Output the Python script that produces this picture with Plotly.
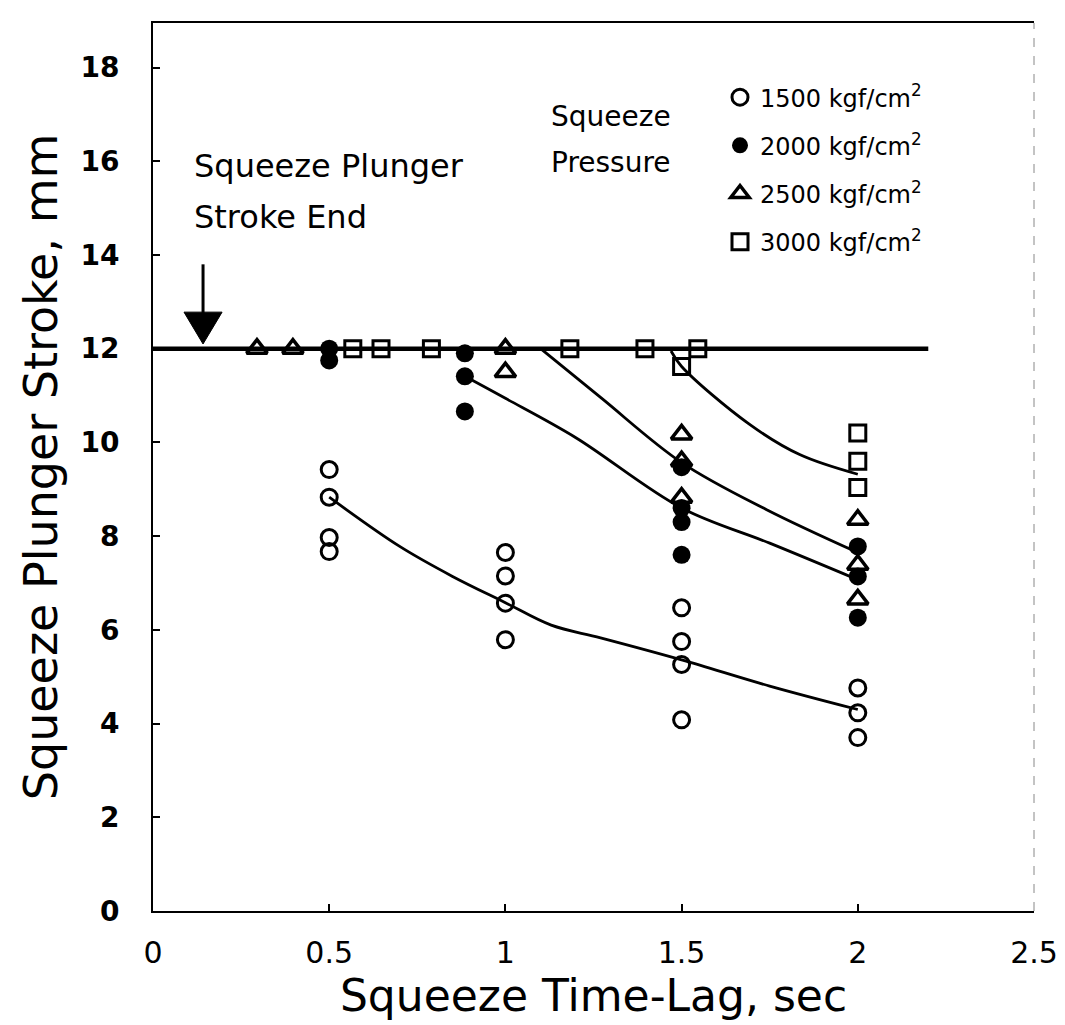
import plotly.graph_objects as go

# ---------------- data ----------------
# 1500 kgf/cm2 (open circles)
P1500_X = [0.5, 0.5, 0.5, 0.5, 1.0, 1.0, 1.0, 1.0, 1.5, 1.5, 1.5, 1.5, 2.0, 2.0, 2.0]
P1500_Y = [9.42, 8.83, 7.97, 7.67, 7.65, 7.15, 6.57, 5.79, 6.47, 5.75, 5.26, 4.08, 4.76, 4.23, 3.70]
# 2000 kgf/cm2 (filled circles)
P2000_X = [0.5, 0.5, 0.885, 0.885, 0.885, 1.5, 1.5, 1.5, 1.5, 2.0, 2.0, 2.0]
P2000_Y = [12.0, 11.75, 11.9, 11.41, 10.66, 9.47, 8.6, 8.3, 7.6, 7.78, 7.14, 6.26]
# 2500 kgf/cm2 (open triangles)
P2500_X = [0.295, 0.397, 1.0, 1.0, 1.5, 1.5, 1.5, 2.0, 2.0, 2.0]
P2500_Y = [12.0, 12.0, 12.0, 11.5, 10.17, 9.6, 8.82, 8.35, 7.39, 6.65]
# 3000 kgf/cm2 (open squares)
P3000_X = [0.567, 0.647, 0.79, 1.183, 1.396, 1.546, 1.5, 2.0, 2.0, 2.0]
P3000_Y = [12.0, 12.0, 12.0, 12.0, 12.0, 12.0, 11.62, 10.2, 9.6, 9.04]

# fitted curves
C1500_X = [0.5, 0.7, 0.85, 1.0, 1.13, 1.27, 1.5, 1.75, 2.0]
C1500_Y = [8.83, 7.78, 7.14, 6.58, 6.1, 5.83, 5.36, 4.8, 4.3]
C2000_X = [0.885, 1.0, 1.2, 1.5, 1.75, 2.0]
C2000_Y = [11.41, 10.94, 10.1, 8.6, 7.85, 7.07]
C2500_X = [1.1, 1.27, 1.5, 1.74, 2.0]
C2500_Y = [12.0, 10.96, 9.57, 8.57, 7.65]
C3000_X = [1.47, 1.5, 1.69, 1.835, 2.0]
C3000_Y = [11.95, 11.62, 10.4, 9.74, 9.32]

# plunger stroke end level
HLINE_X = [0.0, 2.2]
HLINE_Y = [12.0, 12.0]

SERIES_NAMES = ["1500 kgf/cm<sup>2</sup>", "2000 kgf/cm<sup>2</sup>",
                "2500 kgf/cm<sup>2</sup>", "3000 kgf/cm<sup>2</sup>"]

X_TICKS = [0, 0.5, 1, 1.5, 2, 2.5]
X_TICK_TEXT = ["0", "0.5", "1", "1.5", "2", "2.5"]
Y_TICKS = [0, 2, 4, 6, 8, 10, 12, 14, 16, 18]

# arrow annotation ("stroke end")
ARROW_X = 0.142
ARROW_TOP = 13.8
ARROW_TIP = 12.1

FONT = "DejaVu Sans"

fig = go.Figure()

# curves
for cx, cy in [(C1500_X, C1500_Y), (C2000_X, C2000_Y), (C2500_X, C2500_Y), (C3000_X, C3000_Y)]:
    fig.add_trace(go.Scatter(x=cx, y=cy, mode="lines", line=dict(color="black", width=2.8, shape="spline"),
                             showlegend=False, hoverinfo="skip"))

fig.add_trace(go.Scatter(x=HLINE_X, y=HLINE_Y, mode="lines", line=dict(color="black", width=4.5),
                         showlegend=False, hoverinfo="skip"))

marker_specs = [
    (P1500_X, P1500_Y, "circle-open", 16, 3),
    (P2000_X, P2000_Y, "circle", 18, 0),
    (P2500_X, P2500_Y, "triangle-up-open", 18, 3.5),
    (P3000_X, P3000_Y, "square-open", 16, 3),
]
for i, (px, py, sym, sz, lw) in enumerate(marker_specs):
    fig.add_trace(go.Scatter(
        x=px, y=py, mode="markers", name=SERIES_NAMES[i], legendgroup=str(i),
        marker=dict(symbol=sym, size=sz, color="black", line=dict(color="black", width=lw)),
    ))

# arrow: shaft + head
head_h = 0.68
head_w = 0.054
fig.add_shape(type="line", x0=ARROW_X, x1=ARROW_X, y0=ARROW_TOP, y1=ARROW_TIP + head_h * 0.5,
              line=dict(color="black", width=3), layer="above")
fig.add_shape(type="path",
              path=f"M {ARROW_X - head_w} {ARROW_TIP + head_h} L {ARROW_X + head_w} {ARROW_TIP + head_h} L {ARROW_X} {ARROW_TIP} Z",
              fillcolor="black", line=dict(color="black", width=1), layer="above")

# right border (dashed, faint)
fig.add_shape(type="line", xref="paper", yref="paper", x0=1, x1=1, y0=0, y1=1,
              line=dict(color="#888888", width=1, dash="dash"))

# text annotations
def note(text, x, y, size):
    fig.add_annotation(text=text, x=x, y=y, xref="x", yref="y", showarrow=False,
                       xanchor="left", yanchor="middle", font=dict(family=FONT, size=size, color="black"))

note("Squeeze Plunger", 0.11, 15.9, 32)
note("Stroke End", 0.11, 14.8, 32)
note("Squeeze", 1.125, 16.95, 28)
note("Pressure", 1.125, 15.98, 28)

fig.update_layout(
    width=1065, height=1025,
    margin=dict(l=145, r=39, t=15, b=122),
    plot_bgcolor="white", paper_bgcolor="white",
    font=dict(family=FONT, color="black"),
    showlegend=True,
    legend=dict(x=(720 - 153) / 881, y=0.9414, xanchor="left", yanchor="top",
                bgcolor="rgba(0,0,0,0)", font=dict(family=FONT, size=24, color="black"),
                tracegroupgap=14, itemwidth=30),
    xaxis=dict(range=[0, 2.5], tickvals=X_TICKS, ticktext=X_TICK_TEXT, showgrid=False, zeroline=False,
               showline=True, linecolor="black", linewidth=2, mirror=True,
               ticks="inside", ticklen=7, tickwidth=2, tickcolor="black",
               tickfont=dict(family=FONT, size=30, color="black"), ticklabelstandoff=14,
               title=dict(text="Squeeze Time-Lag, sec", font=dict(family=FONT, size=44, color="black"), standoff=8)),
    yaxis=dict(range=[0, 18.95], tickvals=Y_TICKS, showgrid=False, zeroline=False,
               showline=True, linecolor="black", linewidth=2,
               ticks="inside", ticklen=7, tickwidth=2, tickcolor="black",
               tickfont=dict(family=FONT, size=28, color="black", weight="bold"), ticklabelstandoff=26,
               title=dict(text="Squeeze Plunger Stroke, mm", font=dict(family=FONT, size=46, color="black"), standoff=8)),
)

fig.write_html("out.html")
